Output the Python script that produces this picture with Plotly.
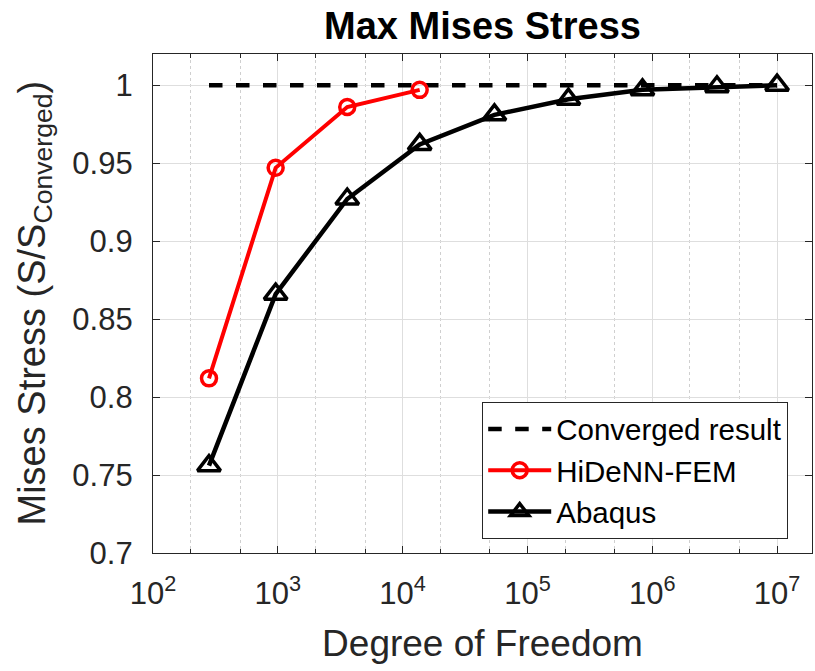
import plotly.graph_objects as go

dof_hidenn = [281, 961, 3600, 13700]
stress_hidenn = [0.812, 0.947, 0.986, 0.997]
dof_abaqus = [281, 961, 3600, 13700, 54400, 213000, 835000, 3.3e6, 1.0e7]
stress_abaqus = [0.756, 0.866, 0.927, 0.962, 0.981, 0.991, 0.997, 0.999, 1.0]
dof_conv = [281, 1.0e7]
stress_conv = [1.0, 1.0]
xtick_vals = [1e2, 1e3, 1e4, 1e5, 1e6, 1e7]
xtick_text = ["10<sup>2</sup>", "10<sup>3</sup>", "10<sup>4</sup>", "10<sup>5</sup>", "10<sup>6</sup>", "10<sup>7</sup>"]
ytick_vals = [0.7, 0.75, 0.8, 0.85, 0.9, 0.95, 1.0]
ytick_text = ["0.7", "0.75", "0.8", "0.85", "0.9", "0.95", "1"]

FONT = "Liberation Sans, Arial"
TXT = "#262626"

fig = go.Figure()
fig.add_trace(go.Scatter(x=dof_conv, y=stress_conv, mode="lines", name="Converged result",
                         line=dict(color="black", width=4.5, dash="dash")))
fig.add_trace(go.Scatter(x=dof_hidenn, y=stress_hidenn, mode="lines+markers", name="HiDeNN-FEM",
                         line=dict(color="red", width=4),
                         marker=dict(symbol="circle-open", size=15, color="red", line=dict(width=3.5, color="red"))))
fig.add_trace(go.Scatter(x=dof_abaqus, y=stress_abaqus, mode="lines+markers", name="Abaqus",
                         line=dict(color="black", width=4.5),
                         marker=dict(symbol="triangle-up-open", size=20, color="black", line=dict(width=3.5, color="black"))))

axis_common = dict(showline=True, linecolor=TXT, linewidth=1.2, mirror="ticks",
                   ticks="inside", ticklen=7, tickcolor=TXT,
                   gridcolor="#dedede", gridwidth=1, zeroline=False,
                   tickfont=dict(family=FONT, size=31, color=TXT))

fig.update_xaxes(type="log", range=[2, 7.28], tickvals=xtick_vals, ticktext=xtick_text,
                 ticklabelstandoff=13,
                 title=dict(text="Degree of Freedom", font=dict(family=FONT, size=37, color=TXT), standoff=19),
                 minor=dict(ticks="inside", ticklen=4, tickcolor=TXT, showgrid=True,
                            gridcolor="#cfcfcf", griddash="dot", gridwidth=1),
                 **axis_common)
fig.update_yaxes(range=[0.7, 1.02], tickvals=ytick_vals, ticktext=ytick_text,
                 ticklabelstandoff=13,
                 **axis_common)

fig.add_annotation(text="Mises Stress (S/S<sub>Converged</sub>)", textangle=-90,
                   xref="paper", yref="paper", x=(8 - 153) / 659, y=0.5,
                   xanchor="left", yanchor="middle", showarrow=False,
                   font=dict(family=FONT, size=38, color=TXT))

fig.update_layout(
    width=815, height=671,
    margin=dict(l=153, r=3, t=54, b=118),
    paper_bgcolor="white", plot_bgcolor="white",
    title=dict(text="<b>Max Mises Stress</b>", x=0.5, xref="paper", xanchor="center",
               y=1 - 26 / 671, yref="container", yanchor="middle",
               font=dict(family=FONT, size=38, color="black")),
    showlegend=True,
    legend=dict(x=(482 - 153) / 659, y=0.028, xanchor="left", yanchor="bottom",
                bgcolor="white", bordercolor=TXT, borderwidth=1.2,
                font=dict(family=FONT, size=29.5, color="black"),
                tracegroupgap=0, itemwidth=63),
)

fig.write_html("out.html")
